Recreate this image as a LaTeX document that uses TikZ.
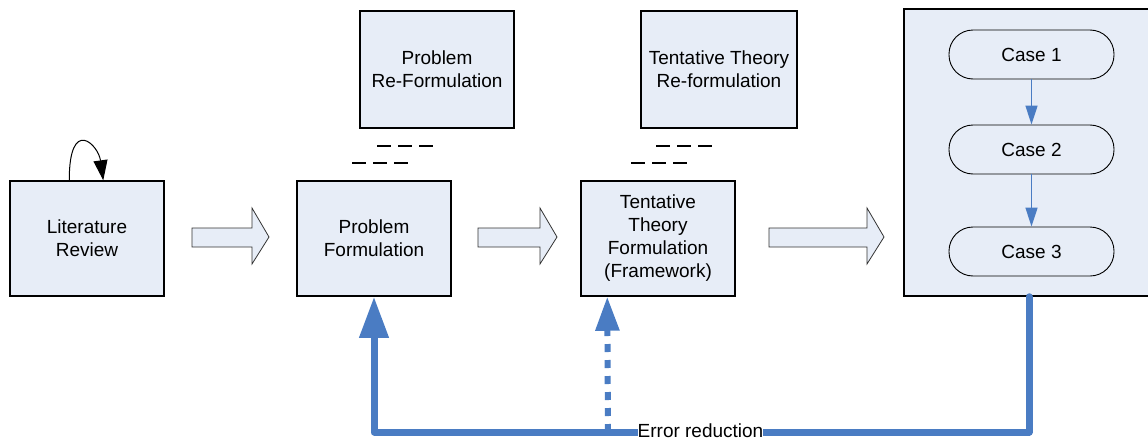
\documentclass[tikz,border=0pt]{standalone}
\usepackage{fontspec}
\setmainfont{Liberation Sans}
\usetikzlibrary{arrows.meta,calc}
\definecolor{boxfill}{HTML}{E7EDF7}
\definecolor{fbblue}{HTML}{4A7CC3}
\tikzset{
  txt/.style={font=\fontsize{19}{23}\selectfont, align=center},
  box/.style={txt, draw=black, line width=1.5pt, fill=boxfill, minimum width=154pt, minimum height=115pt, inner sep=0pt},
  bigbox/.style={draw=black, line width=1.5pt, fill=boxfill, minimum width=250pt, minimum height=287pt, inner sep=0pt},
  casebox/.style={txt, draw=black, line width=0.9pt, fill=boxfill, rounded corners=24pt, minimum width=165pt, minimum height=49pt, inner sep=0pt},
  blockarrow/.style={draw=black!80, line width=0.8pt, fill=boxfill, line join=miter},
  dashrow/.style={draw=black, line width=1.6pt, dash pattern=on 14pt off 7pt},
  casearrow/.style={draw=fbblue, line width=1.5pt, -{Triangle[width=12pt,length=19pt]}},
  fbline/.style={draw=fbblue, line width=7pt, line cap=round, line join=round, -{Triangle[width=28pt,length=41pt]}},
  dotline/.style={draw=fbblue, line width=6pt, dash pattern=on 8pt off 8pt, -{Triangle[width=23pt,length=34pt]}},
  loopline/.style={draw=black, line width=1pt, -{Triangle[width=14pt,length=20pt]}},
}
\begin{document}
\begin{tikzpicture}[x=1pt,y=-1pt]
\useasboundingbox (0,0) rectangle (1148,439);
% boxes
\node[box] (lr) at (87,238.5) {Literature\\Review};
\node[box] (pf) at (374,238.5) {Problem\\Formulation};
\node[box] (ttf) at (658,238.5) {Tentative\\Theory\\Formulation\\(Framework)};
\node[box, minimum height=117pt] (prf) at (437,69.5) {Problem\\Re-Formulation};
\node[box, minimum width=156pt, minimum height=117pt] (ttr) at (719,69.5) {Tentative Theory\\Re-formulation};
\node[bigbox] (big) at (1029,152.5) {};
\node[casebox] (c1) at (1031.5,54.5) {Case 1};
\node[casebox] (c2) at (1031.5,149.5) {Case 2};
\node[casebox] (c3) at (1031.5,251.5) {Case 3};
\draw[casearrow] (c1) -- (c2);
\draw[casearrow] (c2) -- (c3);
% self loop
\coordinate (la) at ($(lr.north west)+(60pt,0)$);
\coordinate (lb) at ($(lr.north west)+(94pt,0)$);
\draw[loopline] (la) .. controls +(0,-64) and +(-5,-36) .. (lb);
% block arrows
\draw[blockarrow] (192,228) -- (252,228) -- (252,208) -- (269,237) -- (252,264) -- (252,247) -- (192,247) -- cycle;
\draw[blockarrow] (478,228) -- (540,228) -- (540,208) -- (557,237) -- (540,264) -- (540,247) -- (478,247) -- cycle;
\draw[blockarrow] (769,228) -- (867,228) -- (867,208) -- (884,237) -- (867,264) -- (867,247) -- (769,247) -- cycle;
% dashes
\draw[dashrow] (377,146) -- (433,146);
\draw[dashrow] (352,163) -- (408,163);
\draw[dashrow] (656,146) -- (712,146);
\draw[dashrow] (631,163) -- (687,163);
% feedback
\coordinate (fbc) at (700,432);
\coordinate (dots) at (608,432);
\draw[fbline] (big.south) |- (fbc) -| (pf.south);
\draw[dotline] (dots) -- ($(ttf.south west)+(27pt,0)$);
\node[txt, fill=white, inner xsep=0pt, inner ysep=1pt, anchor=base] (er) at (700.5,437) {Error reduction};
\end{tikzpicture}
\end{document}
